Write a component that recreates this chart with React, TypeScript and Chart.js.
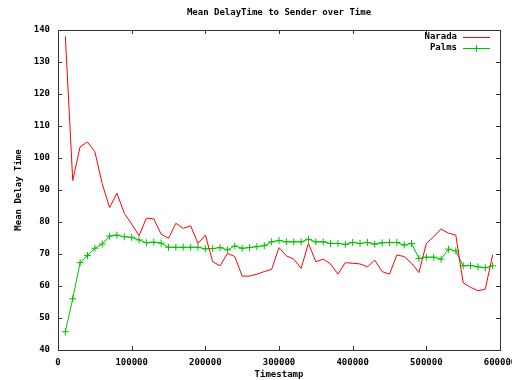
import React, { useEffect, useRef } from "react";
import { Chart, registerables } from "chart.js";

Chart.register(...registerables);

const timestamps = [
  10000, 20000, 30000, 40000, 50000, 60000, 70000, 80000, 90000, 100000,
  110000, 120000, 130000, 140000, 150000, 160000, 170000, 180000, 190000, 200000,
  210000, 220000, 230000, 240000, 250000, 260000, 270000, 280000, 290000, 300000,
  310000, 320000, 330000, 340000, 350000, 360000, 370000, 380000, 390000, 400000,
  410000, 420000, 430000, 440000, 450000, 460000, 470000, 480000, 490000, 500000,
  510000, 520000, 530000, 540000, 550000, 560000, 570000, 580000, 590000,
];

const narada = [
  138, 93, 103.5, 105, 102, 92, 84.5, 89, 82.7, 79.4,
  75.7, 81.2, 81, 76.2, 74.9, 79.6, 78, 78.8, 73.3, 75.9,
  67.6, 66.3, 70.2, 69.2, 63.1, 63.1, 63.7, 64.5, 65.2, 72,
  69.4, 68.4, 65.5, 73.3, 67.6, 68.4, 66.9, 63.7, 67.3, 67.1,
  66.9, 66, 68.1, 64.5, 63.7, 69.7, 69.2, 67.1, 64.2, 73.3,
  75.4, 77.8, 76.5, 75.9, 61, 59.6, 58.5, 59, 69.7,
];

const palms = [
  45.7, 56, 67.3, 69.5, 71.8, 73.1, 75.6, 75.9, 75.4, 75.2,
  74.4, 73.5, 73.7, 73.4, 72.1, 72.1, 72.1, 72.1, 72.1, 71.6,
  71.7, 72, 71.3, 72.5, 71.8, 72, 72.3, 72.6, 73.8, 74.2,
  73.8, 73.8, 73.8, 74.6, 73.8, 73.8, 73.3, 73.3, 73, 73.6,
  73.3, 73.6, 73.1, 73.5, 73.6, 73.6, 72.8, 73.3, 68.6, 69,
  69, 68.4, 71.5, 71, 66.3, 66.4, 66, 65.7, 66.3,
];

const xTicks = [0, 100000, 200000, 300000, 400000, 500000, 600000];
const yTicks = [40, 50, 60, 70, 80, 90, 100, 110, 120, 130, 140];

const titleText = "Mean DelayTime to Sender over Time";
const xTitle = "Timestamp";
const yTitle = "Mean Delay Time";
const seriesNames = ["Narada", "Palms"];
const seriesColors = ["#ff0000", "#00c000"];

const FONT = "bold 9px 'DejaVu Sans Mono', monospace";

const gnuplotPlugin = {
  id: "gnuplotDecor",
  afterDraw(chart: any) {
    const ctx = chart.ctx as CanvasRenderingContext2D;
    const { left, right, top, bottom } = chart.chartArea;
    const xs = chart.scales.x;
    const ys = chart.scales.y;
    ctx.save();
    ctx.strokeStyle = "#333";
    ctx.lineWidth = 1;
    ctx.strokeRect(Math.round(left) + 0.5, Math.round(top) + 0.5, Math.round(right - left), Math.round(bottom - top));
    const tl = 4;
    ctx.beginPath();
    for (const v of xTicks) {
      const px = Math.round(xs.getPixelForValue(v)) + 0.5;
      ctx.moveTo(px, bottom);
      ctx.lineTo(px, bottom - tl);
      ctx.moveTo(px, top);
      ctx.lineTo(px, top + tl);
    }
    for (const v of yTicks) {
      const py = Math.round(ys.getPixelForValue(v)) + 0.5;
      ctx.moveTo(left, py);
      ctx.lineTo(left + tl, py);
      ctx.moveTo(right, py);
      ctx.lineTo(right - tl, py);
    }
    ctx.stroke();

    ctx.fillStyle = "#000";
    ctx.font = FONT;
    ctx.textBaseline = "middle";
    ctx.textAlign = "center";
    ctx.fillText(titleText, (left + right) / 2, 13);
    ctx.fillText(xTitle, (left + right) / 2, 375);
    ctx.save();
    ctx.translate(19, (top + bottom) / 2);
    ctx.rotate(-Math.PI / 2);
    ctx.fillText(yTitle, 0, 0);
    ctx.restore();

    // legend
    const legendY = [37, 48];
    for (let i = 0; i < seriesNames.length; i++) {
      const y = legendY[i];
      ctx.textAlign = "right";
      ctx.fillStyle = "#000";
      ctx.fillText(seriesNames[i], 457, y);
      ctx.strokeStyle = seriesColors[i];
      ctx.lineWidth = 1;
      ctx.beginPath();
      ctx.moveTo(463, y + 0.5);
      ctx.lineTo(490, y + 0.5);
      if (i === 1) {
        ctx.moveTo(476.5, y - 3);
        ctx.lineTo(476.5, y + 4);
        ctx.moveTo(473, y + 0.5);
        ctx.lineTo(480, y + 0.5);
      }
      ctx.stroke();
    }
    ctx.restore();
  },
};

export default function App() {
  const ref = useRef<HTMLCanvasElement | null>(null);
  useEffect(() => {
    if (!ref.current) return;
    const chart = new Chart(ref.current, {
      type: "line",
      data: {
        datasets: [
          {
            label: seriesNames[0],
            data: timestamps.map((t, i) => ({ x: t, y: narada[i] })),
            borderColor: seriesColors[0],
            borderWidth: 1,
            pointRadius: 0,
            fill: false,
            tension: 0,
          },
          {
            label: seriesNames[1],
            data: timestamps.map((t, i) => ({ x: t, y: palms[i] })),
            borderColor: seriesColors[1],
            backgroundColor: seriesColors[1],
            borderWidth: 1,
            pointStyle: "cross",
            pointRadius: 3.5,
            pointBorderWidth: 1,
            pointBorderColor: seriesColors[1],
            fill: false,
            tension: 0,
          },
        ],
      },
      options: {
        responsive: false,
        animation: false,
        devicePixelRatio: 1,
        layout: { padding: { top: 30, right: 12, left: 0, bottom: 0 } },
        plugins: {
          legend: { display: false },
          title: { display: false },
          tooltip: { enabled: false },
        },
        scales: {
          x: {
            type: "linear",
            min: 0,
            max: 600000,
            afterFit: (s: any) => {
              s.height = 30;
              s.paddingLeft = 0;
              s.paddingRight = 0;
            },
            afterBuildTicks: (s: any) => {
              s.ticks = xTicks.map((v) => ({ value: v }));
            },
            grid: { display: false, drawTicks: false },
            border: { display: false },
            ticks: {
              padding: 7,
              color: "#000",
              font: { family: "'DejaVu Sans Mono', monospace", size: 9, weight: "bold" },
              maxRotation: 0,
              autoSkip: false,
              callback: (v: any) => String(v),
            },
          },
          y: {
            type: "linear",
            min: 40,
            max: 140,
            afterFit: (s: any) => {
              s.width = 58;
              s.paddingTop = 0;
              s.paddingBottom = 0;
            },
            afterBuildTicks: (s: any) => {
              s.ticks = yTicks.map((v) => ({ value: v }));
            },
            grid: { display: false, drawTicks: false },
            border: { display: false },
            ticks: {
              padding: 8,
              color: "#000",
              font: { family: "'DejaVu Sans Mono', monospace", size: 9, weight: "bold" },
              autoSkip: false,
              callback: (v: any) => String(v),
            },
          },
        },
      },
      plugins: [gnuplotPlugin],
    } as any);
    return () => chart.destroy();
  }, []);
  return (
    <div style={{ position: "fixed", left: 0, top: 0, width: 512, height: 380, background: "#fff" }}>
      <canvas ref={ref} width={512} height={380} style={{ display: "block" }} />
    </div>
  );
}
